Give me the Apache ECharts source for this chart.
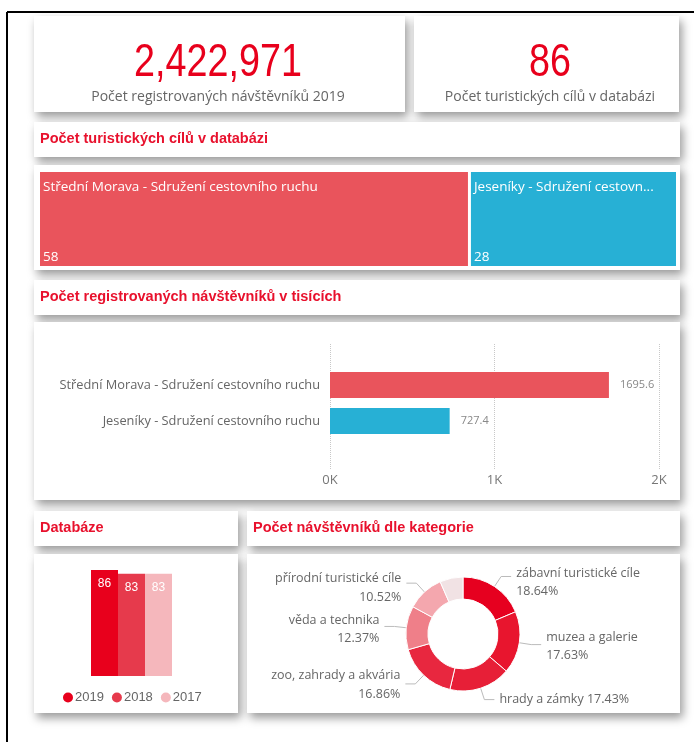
<!doctype html>
<html>
<head>
    <meta charset="utf-8">
    <title>Turistické cíle</title>
    <style>
        html, body { margin: 0; padding: 0; background: #fff; }
        #main { width: 694px; height: 742px; }
    </style>
</head>
<body>
<div id="main"></div>
<script src="https://cdn.jsdelivr.net/npm/echarts@6/dist/echarts.min.js"></script>
<script>
    // KPI hodnoty
    var kpiVisitors = '2,422,971';
    var kpiTargets = '86';

    // turistické cíle dle sdružení
    var regions = ['Střední Morava - Sdružení cestovního ruchu', 'Jeseníky - Sdružení cestovního ruchu'];
    var targetCounts = [58, 28];
    // návštěvníci v tisících
    var visitorsK = [1695.6, 727.4];
    var visitorTicks = ['0K', '1K', '2K'];

    // databáze po letech
    var years = ['2019', '2018', '2017'];
    var dbCounts = [86, 83, 83];

    // návštěvníci dle kategorie (%)
    var categories = ['zábavní turistické cíle', 'muzea a galerie', 'hrady a zámky',
        'zoo, zahrady a akvária', 'věda a technika', 'přírodní turistické cíle', 'ostatní'];
    var categoryShares = [18.64, 17.63, 17.43, 16.86, 12.37, 10.52, 6.55];

    var RED = '#e8001c';
    var TREE_RED = '#e9545c';
    var BLUE = '#27b0d5';
    var GRAY = '#666';
    var FONT = "'Open Sans', 'Noto Sans', sans-serif";
    var BOLD = "'Liberation Sans', Arial, sans-serif";

    var yearColors = ['#e8001c', '#e63a4c', '#f5b7bc'];
    var catColors = ['#e6001f', '#e8152e', '#e71f37', '#e8273f', '#ef7f89', '#f4a7ae', '#f1e2e4'];

    // karta se stínem
    function card(x, y, w, h) {
        return {
            type: 'rect', z: -10,
            shape: {x: x, y: y, width: w, height: h},
            style: {fill: '#fff', shadowBlur: 9, shadowOffsetX: 3, shadowOffsetY: 5, shadowColor: 'rgba(0,0,0,0.4)'}
        };
    }
    function title(x, y, txt) {
        return {
            type: 'text', z: 5, x: x, y: y,
            style: {text: txt, fill: '#e8112d', font: 'bold 14.5px ' + BOLD, textVerticalAlign: 'middle'}
        };
    }
    function kpi(x, txt, sub) {
        return [{
            type: 'text', x: x, y: 63, scaleX: 0.82, originX: 0,
            style: {text: txt, fill: RED, font: '46px ' + BOLD, textAlign: 'center', textVerticalAlign: 'middle'}
        }, {
            type: 'text', x: x, y: 97,
            style: {text: sub, fill: GRAY, font: '14px ' + FONT, textAlign: 'center', textVerticalAlign: 'middle'}
        }];
    }

    var chart = echarts.init(document.getElementById('main'));
    var option = {
        backgroundColor: '#fff',
        animation: false,
        graphic: [
            // rámeček
            {type: 'line', shape: {x1: 7, y1: 12, x2: 694, y2: 12}, style: {stroke: '#000', lineWidth: 2}},
            {type: 'line', shape: {x1: 7, y1: 12, x2: 7, y2: 742}, style: {stroke: '#000', lineWidth: 2}},
            card(34, 16, 371, 96),
            card(414, 16, 265, 96),
            card(34, 122, 646, 35),
            card(34, 165, 646, 105),
            card(34, 280, 646, 35),
            card(34, 322, 646, 178),
            card(34, 511, 204, 35),
            card(34, 554, 204, 159),
            card(247, 511, 433, 35),
            card(247, 554, 433, 159),
            title(40, 139, 'Počet turistických cílů v databázi'),
            title(40, 297, 'Počet registrovaných návštěvníků v tisících'),
            title(40, 528, 'Databáze'),
            title(253, 528, 'Počet návštěvníků dle kategorie')
        ].concat(kpi(218, kpiVisitors, 'Počet registrovaných návštěvníků 2019'))
            .concat(kpi(550, kpiTargets, 'Počet turistických cílů v databázi')),
        legend: {
            data: years,
            left: 58, top: 686,
            icon: 'circle',
            itemWidth: 10, itemHeight: 10, itemGap: 8,
            textStyle: {color: GRAY, fontSize: 13, fontFamily: BOLD, padding: [0, 0, 0, -3]}
        },
        grid: [
            {left: 330, right: 35, top: 367, height: 72},
            {left: 330, right: 35, top: 344, height: 125},
            {left: 91, width: 81, top: 570, height: 106}
        ],
        xAxis: [
            {gridIndex: 0, type: 'value', min: 0, max: 2000, show: false},
            {
                gridIndex: 1, type: 'value', min: 0, max: 2000, interval: 1000,
                axisLine: {show: false}, axisTick: {show: false},
                splitLine: {lineStyle: {type: 'dotted', color: '#c8c8c8'}},
                axisLabel: {
                    color: '#777', fontSize: 13, fontFamily: FONT, margin: 5,
                    formatter: function (v) { return visitorTicks[v / 1000]; }
                }
            },
            {gridIndex: 2, type: 'category', data: ['Databáze'], show: false}
        ],
        yAxis: [
            {
                gridIndex: 0, type: 'category', data: regions, inverse: true,
                axisLine: {show: false}, axisTick: {show: false},
                axisLabel: {color: GRAY, fontSize: 12.8, fontFamily: FONT, margin: 10}
            },
            {gridIndex: 1, type: 'value', show: false},
            {gridIndex: 2, type: 'value', min: 0, max: 86, show: false}
        ],
        series: [
            {
                type: 'treemap',
                left: 40, top: 172, width: 636, height: 94,
                roam: false, nodeClick: false,
                breadcrumb: {show: false},
                itemStyle: {borderWidth: 0, gapWidth: 3},
                levels: [{itemStyle: {borderWidth: 0, gapWidth: 3}}],
                label: {
                    show: true, position: 'insideTopLeft',
                    color: '#fff', fontSize: 13.5, fontFamily: FONT,
                    lineHeight: 17.5, padding: [6, 0, 0, 3],
                    overflow: 'truncate', ellipsis: '...',
                    formatter: function (p) { return p.name + '\n\n\n\n' + p.value; }
                },
                data: regions.map(function (r, i) {
                    return {name: r, value: targetCounts[i], itemStyle: {color: i === 0 ? TREE_RED : BLUE}};
                })
            },
            {
                type: 'bar', xAxisIndex: 0, yAxisIndex: 0,
                barWidth: 26,
                label: {show: true, position: 'right', distance: 11, color: '#888', fontSize: 11, fontFamily: FONT},
                data: visitorsK.map(function (v, i) {
                    return {value: v, itemStyle: {color: i === 0 ? TREE_RED : BLUE}};
                })
            }
        ].concat(years.map(function (y, i) {
            return {
                name: y, type: 'bar', xAxisIndex: 2, yAxisIndex: 2,
                barWidth: 27, barGap: '0%', barCategoryGap: '0%',
                itemStyle: {color: yearColors[i]},
                label: {show: true, position: 'insideTop', distance: 8, color: '#fff', fontSize: 12, fontFamily: BOLD},
                data: [dbCounts[i]]
            };
        })).concat([{
            type: 'pie',
            center: [463, 634],
            radius: [35, 57],
            startAngle: 90,
            itemStyle: {borderColor: '#fff', borderWidth: 1},
            label: {
                color: GRAY, fontSize: 12.5, fontFamily: FONT, lineHeight: 18.5,
                formatter: function (p) { return p.name + '\n' + p.value.toFixed(2) + '%'; }
            },
            labelLine: {length: 12, length2: 10, lineStyle: {color: '#bbb'}},
            labelLayout: function (p) {
                return {dy: [6, 2, 0, 1, 3, 5, 0][p.dataIndex]};
            },
            data: categories.map(function (c, i) {
                var d = {name: c, value: categoryShares[i], itemStyle: {color: catColors[i]}};
                if (i === 2) {
                    d.label = {formatter: function (p) { return p.name + ' ' + p.value.toFixed(2) + '%'; }};
                }
                if (i === categories.length - 1) {
                    d.label = {show: false};
                    d.labelLine = {show: false};
                }
                return d;
            })
        }])
    };
    chart.setOption(option);
</script>
</body>
</html>
